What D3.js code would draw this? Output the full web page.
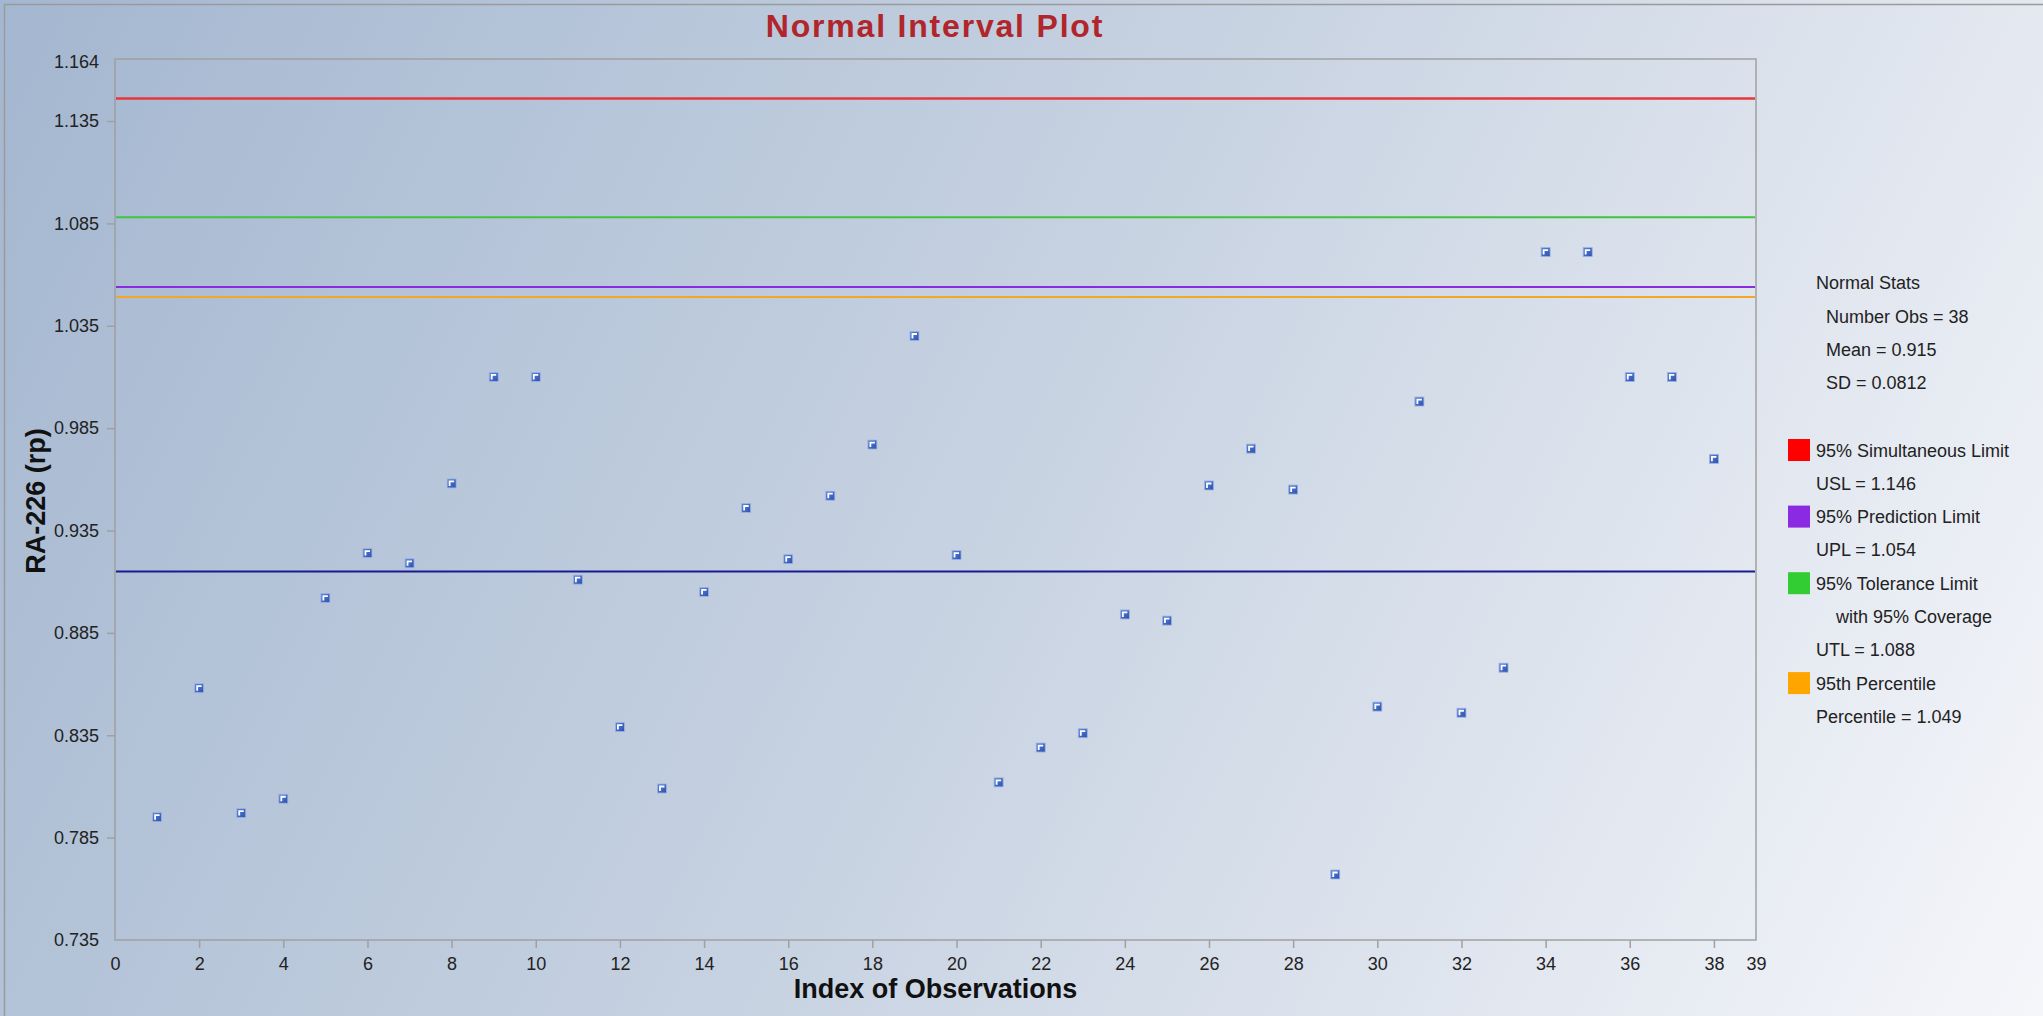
<!DOCTYPE html>
<html>
<head>
<meta charset="utf-8">
<title>Normal Interval Plot</title>
<script src="https://cdnjs.cloudflare.com/ajax/libs/d3/7.8.5/d3.min.js"></script>
<style>
    html, body { margin: 0; padding: 0; overflow: hidden; }
    svg { display: block; font-family: Arial, "Liberation Sans", sans-serif; }
    .tick text { fill: #222; }
</style>
</head>
<body>
<div id="chart"></div>
<script>
var obsIndex = d3.range(1, 39);
var obsValues = [
    0.795, 0.858, 0.797, 0.804, 0.902, 0.924, 0.919, 0.958, 1.010, 1.010,
    0.911, 0.839, 0.809, 0.905, 0.946, 0.921, 0.952, 0.977, 1.030, 0.923,
    0.812, 0.829, 0.836, 0.894, 0.891, 0.957, 0.975, 0.955, 0.767, 0.849,
    0.998, 0.846, 0.868, 1.071, 1.071, 1.010, 1.010, 0.970
];

// reference lines
var limitNames = ["usl", "utl", "upl", "pct", "mean"];
var limitValues = [1.146, 1.088, 1.054, 1.049, 0.915];
var limitColors = ["#e8363c", "#3cc63c", "#8a2be2", "#f5a623", "#1b1b8f"];

// axis ticks
var yTicks = [0.735, 0.785, 0.835, 0.885, 0.935, 0.985, 1.035, 1.085, 1.135, 1.164];
var xTicks = [0, 2, 4, 6, 8, 10, 12, 14, 16, 18, 20, 22, 24, 26, 28, 30, 32, 34, 36, 38, 39];

// legend text
var statsLines = ["Number Obs = 38", "Mean = 0.915", "SD = 0.0812"];
var legendNames = ["95% Simultaneous Limit", "95% Prediction Limit", "95% Tolerance Limit", "95th Percentile"];
var legendSub = [["USL = 1.146"], ["UPL = 1.054"], ["    with 95% Coverage", "UTL = 1.088"], ["Percentile = 1.049"]];
var legendColors = ["#ff0000", "#8a2be2", "#32cd32", "#ffa500"];

(function() {
    var width = 2043, height = 1016;
    var left = 115, right = 1756, top = 59, bottom = 940;

    var svg = d3.select("#chart")
        .append("svg")
        .attr("width", width)
        .attr("height", height);

    var defs = svg.append("defs");
    var bg = defs.append("linearGradient")
        .attr("id", "bg")
        .attr("gradientUnits", "userSpaceOnUse")
        .attr("x1", 0).attr("y1", 0)
        .attr("x2", width).attr("y2", height);
    bg.append("stop").attr("offset", "0%").attr("stop-color", "#a4b7d0");
    bg.append("stop").attr("offset", "50%").attr("stop-color", "#c8d3e2");
    bg.append("stop").attr("offset", "100%").attr("stop-color", "#f5f6fa");

    var mk = defs.append("linearGradient")
        .attr("id", "mk")
        .attr("x1", 0).attr("y1", 0).attr("x2", 1).attr("y2", 1);
    mk.append("stop").attr("offset", "0%").attr("stop-color", "#5b86dc");
    mk.append("stop").attr("offset", "100%").attr("stop-color", "#2c4fb0");

    svg.append("rect")
        .attr("width", width)
        .attr("height", height)
        .attr("fill", "url(#bg)");
    // outer frame
    svg.append("rect")
        .attr("x", 4.5).attr("y", 4.5)
        .attr("width", width + 10).attr("height", height + 10)
        .attr("fill", "none")
        .attr("stroke", "#9a9a9a")
        .attr("stroke-width", 1.5);

    var x = d3.scaleLinear().domain([0, 39]).range([left, right]);
    var y = d3.scaleLinear().domain([0.735, 1.1653]).range([bottom, top]);

    // title
    svg.append("text")
        .attr("x", 935)
        .attr("y", 37)
        .attr("text-anchor", "middle")
        .attr("font-size", "32px")
        .attr("font-weight", "bold")
        .attr("letter-spacing", "1.8px")
        .attr("fill", "#b0262b")
        .text("Normal Interval Plot");

    // axes
    var yAxis = svg.append("g")
        .attr("transform", "translate(" + left + ",0)")
        .call(d3.axisLeft(y)
            .tickValues(yTicks)
            .tickSize(8)
            .tickPadding(8)
            .tickFormat(d3.format(".3f")));
    var xAxis = svg.append("g")
        .attr("transform", "translate(0," + bottom + ")")
        .call(d3.axisBottom(x)
            .tickValues(xTicks)
            .tickSize(8)
            .tickPadding(9)
            .tickFormat(d3.format("d")));

    [yAxis, xAxis].forEach(function(ax) {
        ax.select(".domain").remove();
        ax.selectAll(".tick line").attr("stroke", "#a0a0a0").attr("stroke-width", 1.5);
        ax.selectAll(".tick text")
            .attr("font-size", "18px")
            .attr("font-family", "Arial, 'Liberation Sans', sans-serif");
    });
    // end ticks sit on the frame, no marks there
    yAxis.selectAll(".tick line").filter(function(d) { return d === 0.735 || d === 1.164; }).remove();
    xAxis.selectAll(".tick line").filter(function(d) { return d === 0 || d === 39; }).remove();

    // plot frame
    svg.append("rect")
        .attr("x", left).attr("y", top)
        .attr("width", right - left).attr("height", bottom - top)
        .attr("fill", "none")
        .attr("stroke", "#a0a0a0")
        .attr("stroke-width", 1.5);

    // axis titles
    svg.append("text")
        .attr("x", (left + right) / 2)
        .attr("y", 998)
        .attr("text-anchor", "middle")
        .attr("font-size", "27px")
        .attr("font-weight", "bold")
        .attr("fill", "#111")
        .text("Index of Observations");
    svg.append("text")
        .attr("transform", "translate(45,501) rotate(-90)")
        .attr("text-anchor", "middle")
        .attr("font-size", "27px")
        .attr("font-weight", "bold")
        .attr("fill", "#111")
        .text("RA-226 (rp)");

    // limit lines
    svg.selectAll(".limit")
        .data(limitValues)
        .enter()
        .append("line")
        .attr("class", function(d, i) { return "limit " + limitNames[i]; })
        .attr("x1", left + 1)
        .attr("x2", right - 1)
        .attr("y1", function(d) { return y(d); })
        .attr("y2", function(d) { return y(d); })
        .attr("stroke", function(d, i) { return limitColors[i]; })
        .attr("stroke-width", function(d, i) { return i === 0 ? 2.5 : 2; });

    // observations
    var node = svg.selectAll(".obs")
        .data(obsValues)
        .enter()
        .append("g")
        .attr("class", "obs")
        .attr("transform", function(d, i) {
            return "translate(" + x(obsIndex[i]) + "," + y(d) + ")";
        });
    node.append("rect")
        .attr("x", -4.5).attr("y", -4.5)
        .attr("width", 9).attr("height", 9)
        .attr("fill", "url(#mk)")
        .attr("stroke", "#9fb3de")
        .attr("stroke-width", 0.8);
    node.append("path")
        .attr("d", "M-2,2.5V-2H2.5")
        .attr("fill", "none")
        .attr("stroke", "#ffffff")
        .attr("stroke-width", 1.8);

    // legend
    var lg = svg.append("g").attr("font-size", "18px").attr("fill", "#222");
    lg.append("text").attr("x", 1816).attr("y", 289).text("Normal Stats");
    lg.selectAll(".stat")
        .data(statsLines)
        .enter()
        .append("text")
        .attr("class", "stat")
        .attr("x", 1826)
        .attr("y", function(d, i) { return 322.5 + i * 33.3; })
        .text(function(d) { return d; });

    var rowY = 450;
    legendNames.forEach(function(name, i) {
        lg.append("rect")
            .attr("x", 1788).attr("y", rowY - 11)
            .attr("width", 22).attr("height", 22)
            .attr("fill", legendColors[i]);
        lg.append("text").attr("x", 1816).attr("y", rowY + 6.5).text(name);
        legendSub[i].forEach(function(s) {
            rowY += 33.3;
            lg.append("text")
                .attr("x", s.indexOf("with") >= 0 ? 1836 : 1816)
                .attr("y", rowY + 6.5)
                .text(s.trim());
        });
        rowY += 33.3;
    });
})();
</script>
</body>
</html>
